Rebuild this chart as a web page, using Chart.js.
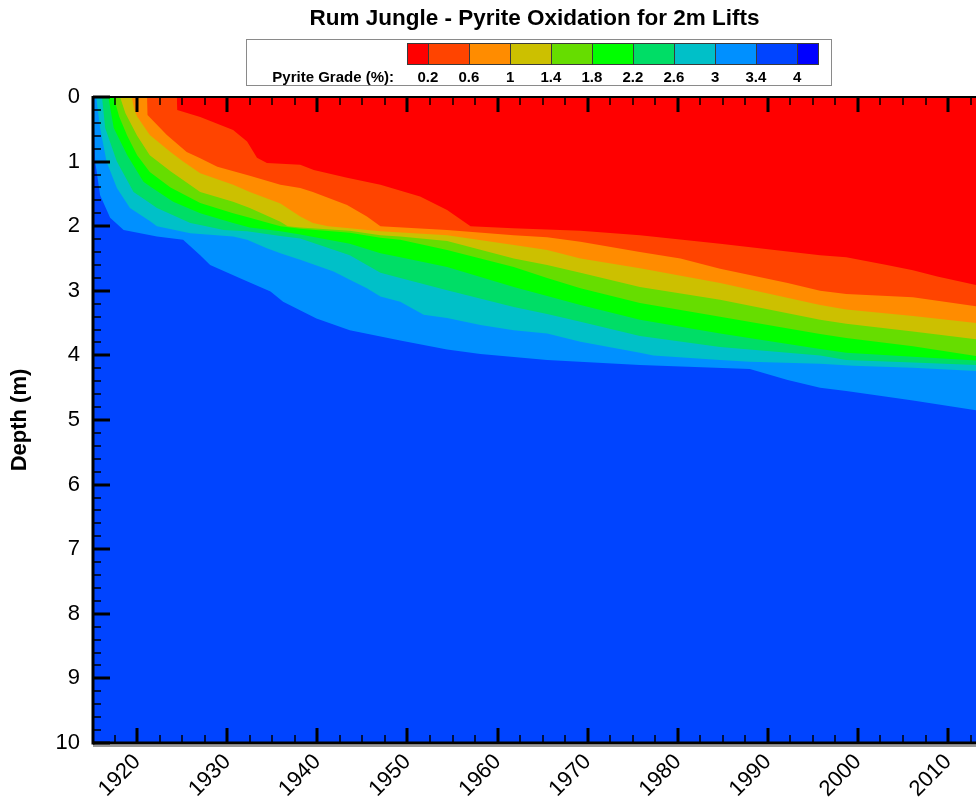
<!DOCTYPE html>
<html>
<head>
<meta charset="utf-8">
<title>Rum Jungle - Pyrite Oxidation for 2m Lifts</title>
<script src="https://cdn.jsdelivr.net/npm/chart.js@4.4.1/dist/chart.umd.min.js"></script>
<style>
  body { margin: 0; background: #fff; font-family: Arial, "Liberation Sans", sans-serif; }
  #wrap { position: relative; width: 976px; height: 798px; overflow: hidden; }
  #title { position: absolute; left: 93px; width: 883px; top: 6px; line-height: 24px; text-align: center; font-weight: bold; font-size: 22.5px; }
  #legend { position: absolute; left: 246px; top: 39px; width: 586px; height: 47px; border: 1px solid #8a8a8a; box-sizing: border-box; }
  .swatch { position: absolute; top: 3px; height: 22px; border: 1px solid #3a3a3a; box-sizing: border-box; }
  .lbl { position: absolute; top: 29px; line-height: 16px; font-weight: bold; font-size: 15px; white-space: nowrap; }
</style>
</head>
<body>
<div id="wrap">
  <canvas id="chart" width="976" height="798"></canvas>
  <div id="title">Rum Jungle - Pyrite Oxidation for 2m Lifts</div>
  <div id="legend"></div>
</div>
<script>
// contour levels of pyrite grade (%) and the colour of each band between them
const gradeLevels = [0.2, 0.6, 1, 1.4, 1.8, 2.2, 2.6, 3, 3.4, 4];
const bandColors = ["#ff0000", "#ff4400", "#ff8c00", "#ccc000", "#66dd00", "#00ff00",
                    "#00dd66", "#00c0c8", "#0090ff", "#0044ff", "#0000ff"];

const yearMin = 1915.1;
const yearMax = 2013.1;
const depthMax = 10;

// contour lines as [year, depth (m)]
const iso02 = [[1924.4,0],[1924.45,0.2],[1927,0.31],[1930.65,0.51],[1932.2,0.69],[1933.3,0.94],
  [1934.4,1.02],[1938.1,1.05],[1939.6,1.13],[1943.3,1.25],[1947,1.36],[1951.4,1.54],[1954.4,1.75],
  [1957,2.0],[1961.7,2.03],[1969.2,2.07],[1975.8,2.14],[1984.7,2.27],[1995.8,2.45],[1998.7,2.48],
  [2003.2,2.6],[2006.1,2.68],[2008.8,2.78],[2013.1,2.91]];

const iso06 = [[1921.1,0],[1921.15,0.28],[1923.3,0.59],[1925.5,0.85],[1927,0.95],[1928.9,1.08],
  [1932.5,1.22],[1935.9,1.36],[1938.1,1.41],[1939.5,1.47],[1943.3,1.67],[1945.5,1.85],[1947,2.0],
  [1954.4,2.06],[1961.8,2.14],[1965.5,2.17],[1969.2,2.24],[1975.8,2.4],[1980.3,2.5],[1984.7,2.66],
  [1992.2,2.88],[1995.8,3.0],[1998.7,3.05],[2006.1,3.1],[2013.1,3.24]];

const iso10 = [[1919.4,0],[1919.7,0.2],[1920,0.3],[1921.4,0.59],[1923.7,0.85],[1925.1,1.0],
  [1927,1.18],[1930.65,1.36],[1932.5,1.47],[1935.9,1.65],[1938.1,1.85],[1939.5,1.95],[1941.2,2.0],
  [1943.6,2.03],[1947,2.08],[1954.4,2.14],[1961.8,2.29],[1965.5,2.37],[1969.2,2.5],[1975.8,2.65],
  [1984.7,2.88],[1995.8,3.22],[1998.7,3.29],[2006.1,3.39],[2013.1,3.5]];

const iso14 = [[1918.1,0],[1918.7,0.25],[1920,0.6],[1921.4,0.9],[1923.7,1.15],[1927,1.47],
  [1930.65,1.62],[1932.5,1.72],[1935.9,1.93],[1936.7,2.0],[1938.1,2.02],[1943.6,2.07],[1947,2.14],
  [1949.2,2.16],[1954.4,2.23],[1961.8,2.5],[1965.5,2.6],[1969.2,2.72],[1975.8,2.94],[1984.7,3.14],
  [1995.8,3.45],[1998.7,3.51],[2006.1,3.63],[2013.1,3.75]];

const iso18 = [[1917.4,0],[1918,0.3],[1918.9,0.6],[1920,0.9],[1921.4,1.16],[1923.7,1.4],[1927,1.64],
  [1930.65,1.8],[1932.5,1.87],[1935.9,2.0],[1938.1,2.04],[1943.6,2.1],[1947,2.18],[1949.2,2.21],
  [1954.4,2.37],[1961.8,2.63],[1965.5,2.8],[1969.2,2.96],[1975.8,3.19],[1984.7,3.4],[1995.8,3.67],
  [1998.7,3.73],[2006.1,3.86],[2013.1,4.01]];

const iso22 = [[1916.8,0],[1917.4,0.48],[1918.9,0.9],[1920.7,1.31],[1921.4,1.38],[1924,1.62],
  [1927,1.8],[1930.65,1.95],[1932.5,2.02],[1935.9,2.08],[1938.1,2.13],[1943.6,2.27],[1947,2.42],
  [1949.2,2.48],[1954.4,2.63],[1961.8,2.94],[1965.5,3.08],[1969.2,3.22],[1975.8,3.45],[1984.7,3.66],
  [1995.8,3.9],[1998.7,3.96],[2006.1,4.02],[2013.1,4.08]];

const iso26 = [[1916.1,0],[1916.45,0.48],[1917.75,1.0],[1919.6,1.47],[1921.4,1.64],[1922.2,1.72],
  [1925.9,1.95],[1927,1.98],[1929.6,2.06],[1932.2,2.08],[1935.9,2.15],[1938.1,2.19],[1943.6,2.45],
  [1947,2.72],[1949.2,2.8],[1954.4,2.99],[1961.8,3.25],[1965.5,3.36],[1969.2,3.48],[1975.8,3.7],
  [1984.7,3.87],[1995.8,4.0],[1998.7,4.07],[2006.1,4.11],[2013.1,4.15]];

const iso30 = [[1915.45,0],[1915.89,0.48],[1916.6,1.0],[1917.75,1.41],[1919.2,1.72],[1921.4,1.92],
  [1922.2,2.0],[1925.9,2.11],[1930.65,2.16],[1932.2,2.21],[1934.4,2.34],[1935.9,2.42],[1938.1,2.52],
  [1941.8,2.7],[1943.6,2.83],[1945.5,2.96],[1947,3.09],[1949.2,3.17],[1951.8,3.37],[1954.4,3.42],
  [1958.1,3.53],[1961.8,3.61],[1965.5,3.66],[1969.2,3.79],[1975.8,3.96],[1977.3,4.0],[1984.7,4.07],
  [1988,4.1],[1995.8,4.13],[1999.5,4.16],[2006.1,4.19],[2013.1,4.24]];

const iso34 = [[1915.1,0],[1915.34,1.0],[1915.89,1.52],[1917,1.87],[1918.5,2.06],[1922.2,2.16],
  [1925.1,2.21],[1927,2.45],[1928.1,2.6],[1931.8,2.83],[1934.8,3.01],[1936.2,3.17],[1939.9,3.43],
  [1943.6,3.61],[1949.2,3.77],[1954.4,3.91],[1958.1,3.98],[1965.5,4.07],[1975.8,4.15],[1988,4.21],
  [1992.2,4.38],[1995.8,4.5],[1998.7,4.55],[2003.2,4.64],[2006.1,4.7],[2013.1,4.85]];

const isolines = [iso02, iso06, iso10, iso14, iso18, iso22, iso26, iso30, iso34];

// tick spacing on the axes
const minorYearStep = 2.5;
const firstMinorYear = 1917.5;
const minorDepthStep = 0.2;

Chart.defaults.font.family = 'Arial, "Liberation Sans", sans-serif';
Chart.defaults.color = "#000";

// each contour fills from the surface down to its line, shallowest on top
const datasets = isolines.map((pts, i) => ({
  label: "< " + gradeLevels[i],
  data: pts.map(p => ({ x: p[0], y: p[1] })),
  backgroundColor: bandColors[i],
  borderWidth: 0,
  pointRadius: 0,
  fill: { value: 0 },
  tension: 0
}));

datasets.push({
  label: gradeLevels[8] + " - " + gradeLevels[9],
  data: [{ x: yearMin, y: depthMax }, { x: yearMax, y: depthMax }],
  backgroundColor: bandColors[9],
  borderWidth: 0,
  pointRadius: 0,
  fill: { value: 0 }
});

const axisFrame = {
  id: "axisFrame",
  afterDraw(chart) {
    const { ctx, chartArea, scales } = chart;
    const { left, right, top, bottom } = chartArea;
    ctx.save();
    ctx.strokeStyle = "#000";

    function line(x1, y1, x2, y2, w) {
      ctx.lineWidth = w;
      ctx.beginPath();
      ctx.moveTo(x1, y1);
      ctx.lineTo(x2, y2);
      ctx.stroke();
    }

    // year ticks on bottom and top edges, pointing in
    for (let i = 0; ; i++) {
      const yr = firstMinorYear + i * minorYearStep;
      if (yr > scales.x.max) break;
      const px = Math.round(scales.x.getPixelForValue(yr));
      const major = yr % 10 === 0;
      const len = major ? 15 : 8;
      const w = major ? 3 : 1.5;
      line(px, bottom, px, bottom - len, w);
      line(px, top, px, top + len, w);
    }

    // depth ticks on the left edge
    const n = Math.round(depthMax / minorDepthStep);
    for (let i = 0; i <= n; i++) {
      const py = Math.round(scales.y.getPixelForValue(i * minorDepthStep));
      const major = i % 5 === 0;
      line(left, py, left + (major ? 17 : 8), py, major ? 3 : 1.5);
    }

    ctx.strokeStyle = "#9a9a9a";
    line(left, bottom + 3, right, bottom + 3, 2);
    ctx.strokeStyle = "#000";
    line(left, top, right, top, 2);
    line(left, bottom, right, bottom, 3);
    line(left, top - 1, left, bottom + 1.5, 3);
    ctx.restore();
  }
};

new Chart(document.getElementById("chart"), {
  type: "line",
  data: { datasets: datasets },
  options: {
    responsive: false,
    animation: false,
    devicePixelRatio: 1,
    layout: { padding: { top: 97, right: 0, bottom: 0, left: 0 } },
    plugins: {
      legend: { display: false },
      tooltip: { enabled: false },
      title: { display: false }
    },
    scales: {
      x: {
        type: "linear",
        min: yearMin,
        max: yearMax,
        afterFit: s => { s.height = 55; },
        grid: { display: false, drawTicks: false },
        border: { display: false },
        ticks: {
          stepSize: 10,
          includeBounds: false,
          autoSkip: false,
          minRotation: 45,
          maxRotation: 45,
          padding: 6,
          font: { size: 22 },
          callback: v => String(v)
        }
      },
      y: {
        type: "linear",
        reverse: true,
        min: 0,
        max: depthMax,
        afterFit: s => { s.width = 93; },
        grid: { display: false, drawTicks: false },
        border: { display: false },
        ticks: { stepSize: 1, padding: 13, font: { size: 22 } },
        title: {
          display: true,
          text: "Depth (m)",
          font: { size: 22, weight: "bold" },
          padding: { top: 7, bottom: 0 }
        }
      }
    }
  },
  plugins: [axisFrame]
});

// colour bar legend
const legend = document.getElementById("legend");
const swatchStart = 160;
let boxLeft = swatchStart;

const head = document.createElement("div");
head.className = "lbl";
head.style.left = "0px";
head.style.width = "147px";
head.style.textAlign = "right";
head.textContent = "Pyrite Grade (%):";
legend.appendChild(head);

bandColors.forEach((c, i) => {
  const w = (i === 0 || i === bandColors.length - 1) ? 21 : 41;
  const box = document.createElement("div");
  box.className = "swatch";
  box.style.left = boxLeft + "px";
  box.style.width = (w + 1) + "px";
  box.style.background = c;
  legend.appendChild(box);
  boxLeft += w;

  if (i < gradeLevels.length) {
    const lbl = document.createElement("div");
    lbl.className = "lbl";
    lbl.textContent = String(gradeLevels[i]);
    legend.appendChild(lbl);
    lbl.style.left = (boxLeft - lbl.offsetWidth / 2) + "px";
  }
});
</script>
</body>
</html>
